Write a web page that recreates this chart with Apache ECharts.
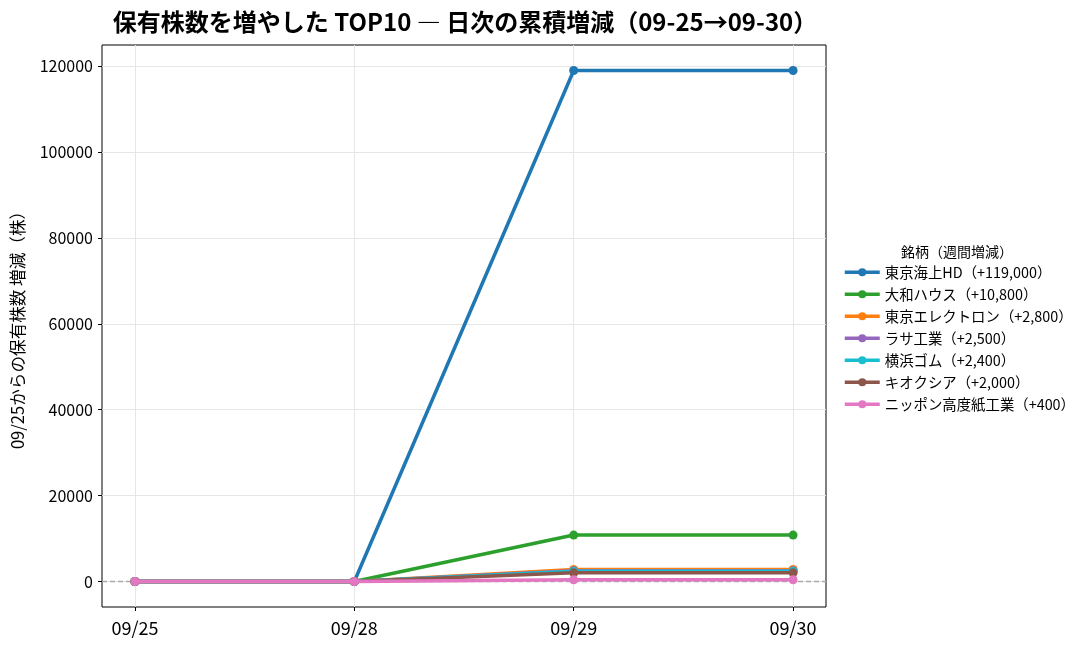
<!DOCTYPE html>
<html>
<head>
<meta charset="utf-8">
<script src="https://cdn.jsdelivr.net/npm/echarts@6/dist/echarts.min.js"></script>
<style>
  html, body { margin: 0; padding: 0; background: #fff; }
  #chart { width: 1087px; height: 648px; }
</style>
</head>
<body>
<div id="chart"></div>
<script>
// 日付（カテゴリ）
var dates = ['09/25', '09/28', '09/29', '09/30'];
var yTicks = [0, 20000, 40000, 60000, 80000, 100000, 120000];

// 銘柄ごとの累積増減
var names = ['東京海上HD', '大和ハウス', '東京エレクトロン', 'ラサ工業', '横浜ゴム', 'キオクシア', 'ニッポン高度紙工業'];
var totals = ['+119,000', '+10,800', '+2,800', '+2,500', '+2,400', '+2,000', '+400'];
var tokioMarine = [0, 0, 119000, 119000];
var daiwaHouse = [0, 0, 10800, 10800];
var tokyoElectron = [0, 0, 2800, 2800];
var rasa = [0, 0, 2500, 2500];
var yokohamaRubber = [0, 0, 2400, 2400];
var kioxia = [0, 0, 2000, 2000];
var nipponKodoshi = [0, 0, 400, 400];
var values = [tokioMarine, daiwaHouse, tokyoElectron, rasa, yokohamaRubber, kioxia, nipponKodoshi];
var colors = ['#1f77b4', '#2ca02c', '#ff7f0e', '#9467bd', '#17becf', '#8c564b', '#e377c2'];

var font = '"Noto Sans CJK JP", "DejaVu Sans", sans-serif';

var series = values.map(function (v, i) {
    var s = {
        name: names[i] + '（' + totals[i] + '）',
        type: 'line',
        data: v.map(function (y, j) { return [j, y]; }),
        symbol: 'circle',
        symbolSize: 9,
        lineStyle: { width: 3.5, color: colors[i] },
        itemStyle: { color: colors[i] },
        z: 3 + i
    };
    if (i === 0) {
        // y=0 の基準線
        s.markLine = {
            silent: true,
            symbol: 'none',
            label: { show: false },
            lineStyle: { color: '#aaaaaa', type: [5, 3], width: 1.3 },
            data: [{ yAxis: 0 }],
            z: 1
        };
    }
    return s;
});

var myChart = echarts.init(document.getElementById('chart'));

var option = {
    animation: false,
    textStyle: { fontFamily: font },
    title: [
        {
            text: '保有株数を増やした TOP10 ― 日次の累積増減（09-25→09-30）',
            left: 460, top: 5, textAlign: 'center',
            textStyle: { fontSize: 24, fontWeight: 'bold', color: '#000', fontFamily: font }
        },
        {
            text: '銘柄（週間増減）',
            left: 952, top: 240, textAlign: 'center',
            textStyle: { fontSize: 14, fontWeight: 'normal', color: '#000', fontFamily: font }
        }
    ],
    legend: {
        orient: 'vertical',
        left: 843, top: 265,
        padding: 0,
        itemWidth: 35, itemHeight: 10,
        itemGap: 7.6,
        lineStyle: { width: 3.5 },
        textStyle: { fontSize: 14.4, color: '#000', fontFamily: font },
        data: series.map(function (s) { return s.name; })
    },
    grid: {
        left: 102, right: 261, top: 45, bottom: 41,
        show: true, borderColor: '#000', borderWidth: 1,
        containLabel: false,
        outerBoundsMode: 'none'
    },
    xAxis: {
        type: 'value',
        min: -0.15, max: 3.15,
        axisLine: { show: false, onZero: false },
        axisTick: { show: true, length: 4, lineStyle: { color: '#000' }, customValues: [0, 1, 2, 3] },
        axisLabel: {
            customValues: [0, 1, 2, 3],
            formatter: function (v) { return dates[Math.round(v)]; },
            fontSize: 18, color: '#000', margin: 12
        },
        splitLine: { show: true, lineStyle: { color: '#e6e6e6', width: 1 } }
    },
    yAxis: {
        type: 'value',
        min: -5950, max: 124950,
        name: '09/25からの保有株数 増減（株）',
        nameLocation: 'middle',
        nameGap: 76,
        nameTextStyle: { fontSize: 16.6, color: '#000' },
        axisLine: { show: false, onZero: false },
        axisTick: { show: true, length: 4, lineStyle: { color: '#000' }, customValues: yTicks },
        axisLabel: {
            customValues: yTicks,
            formatter: function (v) { return String(v); },
            fontSize: 16, color: '#000', margin: 9
        },
        splitLine: { show: true, lineStyle: { color: '#e6e6e6', width: 1 } }
    },
    series: series
};

myChart.setOption(option);
</script>
</body>
</html>
